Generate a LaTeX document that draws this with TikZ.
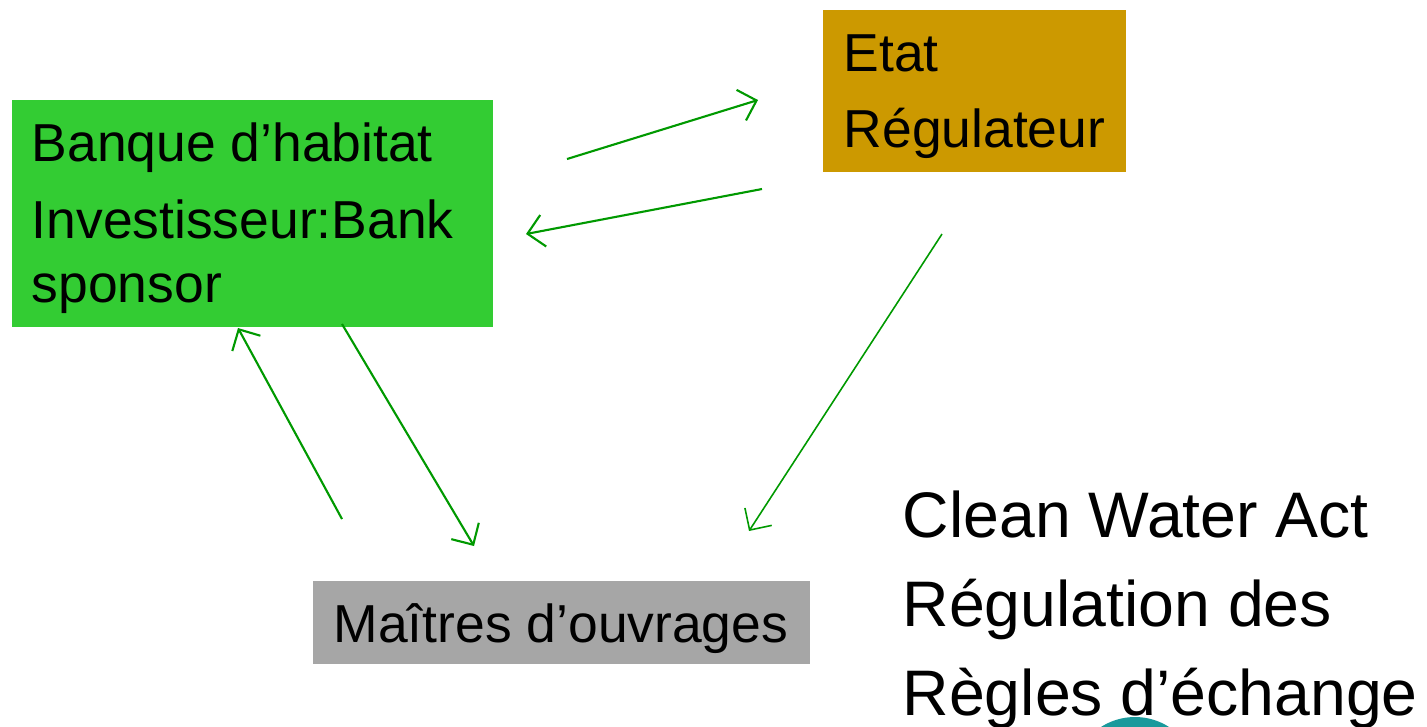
\documentclass[tikz,border=0pt]{standalone}
\usepackage{fontspec}
\setmainfont{Liberation Sans}
\usetikzlibrary{positioning}
\usetikzlibrary{arrows.meta}
\definecolor{bankgreen}{HTML}{33CC33}
\definecolor{stategold}{HTML}{CC9900}
\definecolor{ownergray}{HTML}{A6A6A6}
\definecolor{flowgreen}{HTML}{009900}
\definecolor{logoteal}{HTML}{1A9A9C}

\begin{document}
\begin{tikzpicture}[x=0.01cm, y=-0.01cm,
		box/.style={anchor=north west, inner sep=0pt, draw=none},
		boxtext/.style={anchor=base west, align=left, inner sep=0pt,
			font=\fontsize{15.2}{18.2}\selectfont},
		bigtext/.style={anchor=base west, align=left, inner sep=0pt,
			font=\fontsize{18.3}{25.3}\selectfont},
		flow/.style={->, draw=flowgreen, line width=0.6pt},
		>={Straight Barb[length=1.6mm, width=3.2mm]}
	]
	
	\useasboundingbox (0,0) rectangle (1427,726);
	\clip (0,0) rectangle (1427,726);
	
	%boxes
	\node[box, fill=bankgreen, minimum width=4.81cm, minimum height=2.27cm] (bank) at (11,99) {};
	\node[box, fill=stategold, minimum width=3.03cm, minimum height=1.62cm] (state) at (822,9) {};
	\node[box, fill=ownergray, minimum width=4.97cm, minimum height=0.83cm] (owners) at (312,580) {};
	
	%texts (anchored on the last line)
	\node[boxtext] (banktxt) at (31,302) {Banque d’habitat\\[3.6pt]Investisseur:Bank\\sponsor};
	\node[boxtext] (statetxt) at (843,147) {Etat\\[3.4pt]Régulateur};
	\node[boxtext] (ownerstxt) at (333,642) {Maîtres d’ouvrages};
	\node[bigtext] (cwa) at (902,715) {Clean Water Act\\Régulation des\\Règles d’échange};
	
	%logo
	\fill[logoteal] (1135,780) circle (63);
	
	%flow ends
	\coordinate (b2s) at (567,159);
	\coordinate (s2bin) at (758,100);
	\coordinate (s2b) at (762,189);
	\coordinate (b2sin) at (526,234);
	\coordinate (o2b) at (342,519);
	\coordinate (o2bin) at (238,328);
	\coordinate (b2o) at (342,324);
	\coordinate (b2oin) at (474,546);
	\coordinate (s2o) at (942,234);
	\coordinate (s2oin) at (749,531);
	
	%flows
	\draw[flow] (b2s) -- (s2bin);
	\draw[flow] (s2b) -- (b2sin);
	\draw[flow] (o2b) -- (o2bin);
	\draw[flow] (b2o) -- (b2oin);
	\draw[flow, line width=0.45pt] (s2o) -- (s2oin);
\end{tikzpicture}
\end{document}
